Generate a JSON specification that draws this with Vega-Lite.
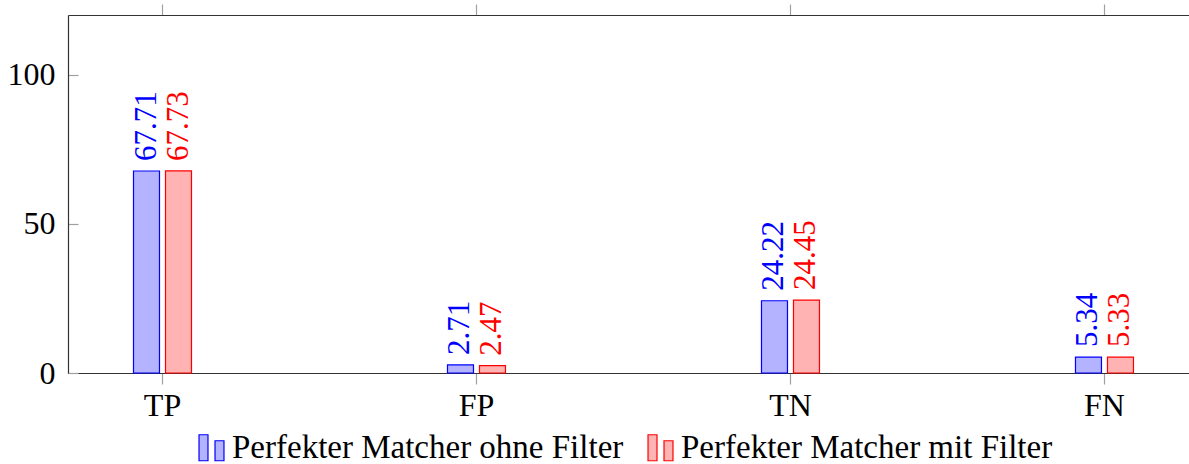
{
  "$schema": "https://vega.github.io/schema/vega-lite/v6.json",
  "width": 1121,
  "height": 358,
  "autosize": {"type": "none"},
  "padding": {"left": 68, "top": 15, "right": 0, "bottom": 91},
  "background": "white",
  "data": {
    "values": [
      {"cat": "TP", "series": "Perfekter Matcher ohne Filter", "value": 67.71},
      {"cat": "TP", "series": "Perfekter Matcher mit Filter", "value": 67.73},
      {"cat": "FP", "series": "Perfekter Matcher ohne Filter", "value": 2.71},
      {"cat": "FP", "series": "Perfekter Matcher mit Filter", "value": 2.47},
      {"cat": "TN", "series": "Perfekter Matcher ohne Filter", "value": 24.22},
      {"cat": "TN", "series": "Perfekter Matcher mit Filter", "value": 24.45},
      {"cat": "FN", "series": "Perfekter Matcher ohne Filter", "value": 5.34},
      {"cat": "FN", "series": "Perfekter Matcher mit Filter", "value": 5.33}
    ]
  },
  "config": {
    "view": {"stroke": null},
    "font": "Liberation Serif",
    "legend": {"labelFont": "Liberation Serif", "labelFontSize": 33, "labelColor": "black"},
    "axis": {
      "grid": false,
      "domainColor": "#333333",
      "domainWidth": 1.2,
      "tickColor": "#a0a0a0",
      "tickWidth": 1.2,
      "labelColor": "black",
      "labelFont": "Liberation Serif",
      "labelFontSize": 32,
      "title": null
    }
  },
  "layer": [
    {
      "mark": {"type": "bar", "strokeWidth": 1.2},
      "encoding": {
        "x": {
          "field": "cat", "type": "nominal", "sort": ["TP", "FP", "TN", "FN"],
          "scale": {"range": [0, 1131], "paddingInner": 0.398, "paddingOuter": 0},
          "axis": {"orient": "bottom", "labelAngle": 0, "tickSize": 11, "labelPadding": 6, "domain": true, "title": null}
        },
        "xOffset": {
          "field": "series", "type": "nominal",
          "sort": ["Perfekter Matcher ohne Filter", "Perfekter Matcher mit Filter"],
          "scale": {"range": [65.5, 123.5], "paddingInner": 0.1875, "paddingOuter": 0}
        },
        "y": {
          "field": "value", "type": "quantitative",
          "scale": {"domain": [0, 120], "nice": false, "zero": true},
          "axis": {"orient": "left", "values": [0, 50, 100], "tickSize": -10, "labelPadding": 23, "domain": true, "title": null}
        },
        "fill": {
          "field": "series", "type": "nominal",
          "scale": {"domain": ["Perfekter Matcher ohne Filter", "Perfekter Matcher mit Filter"], "range": ["#b3b3ff", "#ffb3b3"]},
          "legend": {
            "orient": "none", "legendX": 127, "legendY": 416, "direction": "horizontal", "title": null,
            "symbolType": "M-0.96,-1H-0.27V1H-0.96Z M0.27,-0.54H0.96V1H0.27Z",
            "symbolSize": 676, "symbolStrokeWidth": 1.2, "symbolOpacity": 1,
            "labelFont": "Liberation Serif", "labelFontSize": 33, "labelColor": "black",
            "labelOffset": 4, "columnPadding": 20, "labelLimit": 600
          }
        },
        "stroke": {
          "field": "series", "type": "nominal",
          "scale": {"domain": ["Perfekter Matcher ohne Filter", "Perfekter Matcher mit Filter"], "range": ["#0000ff", "#ff0000"]},
          "legend": {
            "orient": "none", "legendX": 127, "legendY": 416, "direction": "horizontal", "title": null,
            "symbolType": "M-0.96,-1H-0.27V1H-0.96Z M0.27,-0.54H0.96V1H0.27Z",
            "symbolSize": 676, "symbolStrokeWidth": 1.2, "symbolOpacity": 1,
            "labelFont": "Liberation Serif", "labelFontSize": 33, "labelColor": "black",
            "labelOffset": 4, "columnPadding": 20, "labelLimit": 600
          }
        }
      }
    },
    {
      "mark": {"type": "text", "angle": 270, "align": "left", "baseline": "middle", "dx": 10, "fontSize": 31, "font": "Liberation Serif"},
      "encoding": {
        "x": {
          "field": "cat", "type": "nominal", "sort": ["TP", "FP", "TN", "FN"],
          "scale": {"range": [0, 1131], "paddingInner": 0.398, "paddingOuter": 0},
          "axis": {"orient": "top", "labels": false, "tickSize": 11, "domain": true, "title": null}
        },
        "xOffset": {
          "field": "series", "type": "nominal",
          "sort": ["Perfekter Matcher ohne Filter", "Perfekter Matcher mit Filter"],
          "scale": {"range": [65.5, 123.5], "paddingInner": 0.1875, "paddingOuter": 0}
        },
        "y": {"field": "value", "type": "quantitative"},
        "text": {"field": "value", "type": "quantitative", "format": ".2f"},
        "color": {
          "field": "series", "type": "nominal",
          "scale": {"domain": ["Perfekter Matcher ohne Filter", "Perfekter Matcher mit Filter"], "range": ["#0000ff", "#ff0000"]},
          "legend": null
        }
      }
    }
  ],
  "resolve": {"axis": {"x": "independent"}}
}
